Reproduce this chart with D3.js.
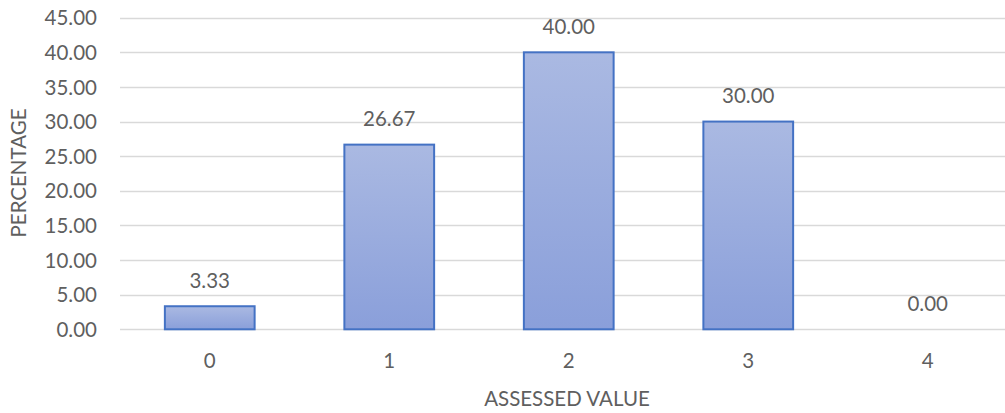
<!DOCTYPE html>
<html>
<head>
<meta charset="utf-8">
<script src="https://cdn.jsdelivr.net/npm/d3@7"></script>
<style>
  html, body { margin: 0; padding: 0; background: #fff; overflow: hidden; }
  svg { display: block; }
  text { font-family: Lato, "Open Sans", sans-serif; fill: #5f5f5f; }
</style>
</head>
<body>
<svg id="chart" width="1005" height="413"></svg>
<script>
// Share of ratings per assessed value
const categories = ["0", "1", "2", "3", "4"];
const percentages = [3.33, 26.67, 40.00, 30.00, 0.00];
const yTicks = [0, 5, 10, 15, 20, 25, 30, 35, 40, 45];
const xTitle = "ASSESSED VALUE";
const yTitle = "PERCENTAGE";

const svg = d3.select("#chart");
const plot = { left: 120, right: 1017.5, top: 17.7, bottom: 329.3 };
const fontSize = 20.5;
const fmt = d3.format(".2f");

const x = d3.scaleBand()
  .domain(categories)
  .range([plot.left, plot.right])
  .paddingInner(0.5)
  .paddingOuter(0.25);

const y = d3.scaleLinear()
  .domain([0, 45])
  .range([plot.bottom, plot.top]);

// Vertical gradient for bar fill
const defs = svg.append("defs");
const grad = defs.append("linearGradient")
  .attr("id", "barFill")
  .attr("x1", 0).attr("y1", 0).attr("x2", 0).attr("y2", 1);
grad.append("stop").attr("offset", "0%").attr("stop-color", "#aab9e2");
grad.append("stop").attr("offset", "100%").attr("stop-color", "#8a9fda");

// Horizontal gridlines
svg.append("g")
  .selectAll("line")
  .data(yTicks)
  .join("line")
  .attr("x1", plot.left)
  .attr("x2", plot.right)
  .attr("y1", d => Math.round(y(d)) + 0.5)
  .attr("y2", d => Math.round(y(d)) + 0.5)
  .attr("stroke", "#d9d9d9")
  .attr("stroke-width", 1.3);

// Y axis tick labels
const yAxis = d3.axisLeft(y)
  .tickValues(yTicks)
  .tickFormat(fmt)
  .tickSize(0)
  .tickPadding(0);
const yg = svg.append("g")
  .attr("transform", "translate(97,0)")
  .call(yAxis);
yg.select(".domain").remove();
yg.selectAll("text")
  .attr("font-size", fontSize)
  .attr("font-family", null)
  .attr("dy", "0.35em");

// Bars
svg.append("g")
  .selectAll("rect")
  .data(percentages)
  .join("rect")
  .attr("x", (d, i) => x(categories[i]))
  .attr("width", x.bandwidth())
  .attr("y", d => y(d))
  .attr("height", d => y(0) - y(d))
  .attr("fill", "url(#barFill)")
  .attr("stroke", "#4472c4")
  .attr("stroke-width", 2);

// Value labels above bars
svg.append("g")
  .selectAll("text")
  .data(percentages)
  .join("text")
  .attr("x", (d, i) => x(categories[i]) + x.bandwidth() / 2)
  .attr("y", d => y(d) - 25.5)
  .attr("dy", "0.35em")
  .attr("text-anchor", "middle")
  .attr("font-size", fontSize)
  .text(d => fmt(d));

// X axis category labels
const xAxis = d3.axisBottom(x).tickSize(0).tickPadding(0);
const xg = svg.append("g")
  .attr("transform", "translate(0,361)")
  .call(xAxis);
xg.select(".domain").remove();
xg.selectAll("text")
  .attr("font-size", fontSize)
  .attr("font-family", null)
  .attr("dy", "0.35em");

// Axis titles
svg.append("text")
  .attr("x", 567)
  .attr("y", 399)
  .attr("dy", "0.35em")
  .attr("text-anchor", "middle")
  .attr("font-size", fontSize)
  .text(xTitle);

svg.append("text")
  .attr("transform", "translate(19,173) rotate(-90)")
  .attr("dy", "0.35em")
  .attr("text-anchor", "middle")
  .attr("font-size", fontSize)
  .text(yTitle);
</script>
</body>
</html>
